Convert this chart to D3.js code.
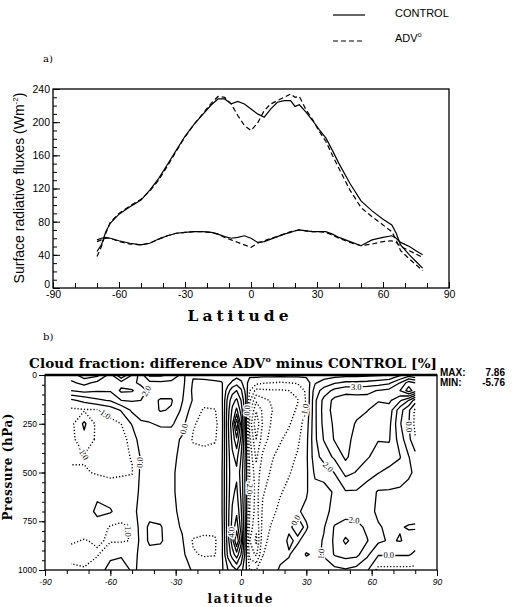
<!DOCTYPE html>
<html>
<head>
<meta charset="utf-8">
<script src="https://d3js.org/d3.v7.min.js"></script>
<style>
  html, body { margin: 0; padding: 0; background: #fff; }
  svg { display: block; }
</style>
</head>
<body>
<svg id="fig" width="514" height="607" xmlns="http://www.w3.org/2000/svg"></svg>
<script>
// ---------- (a) zonal-mean surface radiative fluxes (W m-2) ----------
const fluxLat = [-70,-68,-66,-64,-60,-55,-50,-46,-42,-38,-34,-30,-26,-22,-18,-15,-12,-9,-6,-3,
                 0,3,6,9,12,15,18,20,22,25,28,31,34,37,40,45,50,55,60,64,66,68,72,75,78];
const upperControl = [44,52,68,78,89,98,106,118,132,149,166,183,197,209,221,228,228,222,225,222,
                      216,210,206,216,224,226,226,219,221,212,202,191,181,166,150,126,105,93,83,76,66,52,40,32,24];
const upperAdv     = [38,50,66,79,90,99,107,117,130,147,165,182,197,210,223,231,230,222,208,196,
                      190,199,214,222,226,230,234,230,231,215,203,189,177,160,144,118,97,86,76,68,58,45,35,28,21];
const lowerControl = [58,60,61,60,57,54,52,54,59,63,66,67,68,68,67,65,62,60,61,63,
                      60,55,56,59,62,65,67,69,70,69,68,68,68,65,61,56,51,58,61,63,60,55,50,45,40];
const lowerAdv     = [56,58,60,60,56,53,52,54,59,63,66,67,68,68,67,65,61,58,55,52,
                      49,54,57,60,62,65,68,69,70,69,68,68,67,64,60,55,51,53,56,57,55,50,45,41,37];
const fluxLatTicks = [-90,-60,-30,0,30,60,90];
const fluxValueTicks = [0,40,80,120,160,200,240];

// ---------- (b) cloud fraction difference ADV0 - CONTROL (%) ----------
const gridLat = [-78,-72,-66,-60,-55,-50,-46,-42,-37,-32,-27,-22,-17,-12,
                 -9,-6,-4,-2,0,2,4,7,10,14,
                 18,22,26,30,34,38,43,48,53,58,63,68,73,77,80];
const gridPressure = [0,40,80,130,180,250,330,420,500,600,700,780,850,920,1000];

// one column per latitude, listed from the top (0 hPa) down to 1000 hPa
const diffSouth = [
  [3.5, 2.8, 2.0, -0.2, -1.2, -1.3, -1.3, -1.2, -0.8, -0.5, -0.4, -0.5, -0.9, -1.3, -0.8],   // -78
  [4.6, 3.3, 2.3, 0.3, -1.1, 0.2, -0.3, -1.1, -0.9, -0.6, -0.5, -0.6, -1.05, -1.4, -0.9],    // -72
  [4.3, 2.7, 2.1, 0.8, -1.1, -1.3, -1.2, -1.3, -1.1, -0.2, 0.2, -0.4, -0.9, -1.1, -0.4],     // -66
  [2.6, 2.4, 2.1, 1.1, -0.6, -1.3, -1.4, -1.3, -1.2, -0.5, 0.1, -1.1, -1.1, -0.2, 0.3],      // -60
  [5.0, 2.6, 3.2, 2.0, 0.1, -1.0, -1.3, -1.2, -1.1, -0.6, -0.5, -1.2, -1.1, -0.1, 0.4],      // -55
  [3.0, 2.2, 3.1, 2.1, 1.2, 0.1, -0.7, -0.95, -1.05, -0.5, -0.3, -0.9, -0.95, -0.3, -0.1],   // -50
  [1.5, 1.8, 2.4, 2.0, 1.3, 0.9, 0.6, 0.1, 0.2, 0.2, 0.3, 0.4, 0.3, 0.2, 0.1],               // -46
  [-0.2, 1.3, 1.8, 1.6, 1.4, 0.95, 0.7, 0.5, 0.4, 0.4, 0.6, 1.2, 1.2, 0.6, 0.3],             // -42
  [-0.2, 1.2, 1.5, 2.1, 2.1, 1.1, 0.6, 0.4, 0.3, 0.3, 0.5, 1.1, 1.15, 0.5, 0.3],             // -37
  [0.2, 1.3, 1.5, 2.1, 1.9, 1.2, 0.3, 0.2, 0.15, 0.15, 0.2, 0.35, 0.4, 0.5, 0.5],            // -32
  [1.3, 1.3, 1.2, 1.05, 0.8, 0.3, -0.1, -0.2, -0.3, -0.3, -0.2, -0.1, 0.1, 0.3, 0.4],        // -27
  [0.1, -0.1, -0.2, -0.1, -0.5, -0.9, -1.1, -0.6, -0.3, -0.3, -0.4, -0.5, -1.1, -0.9, -0.1], // -22
  [0.4, -0.3, -0.5, -0.7, -1.1, -1.3, -1.2, -0.7, -0.5, -0.4, -0.5, -0.7, -1.2, -1.1, -0.4], // -17
  [0.5, -0.2, -0.4, -0.6, -1.05, -1.2, -1.1, -0.6, -0.4, -0.4, -0.5, -0.8, -1.1, -1.05, -0.5] // -12
];
const diffTropics = [
  [0.6, -0.1, -0.3, -0.4, -0.5, -0.6, -0.5, -0.4, -0.3, -0.3, -0.3, -0.4, -0.5, -0.4, -0.3], // -9
  [0.3, 0.6, 1.6, 2.4, 2.6, 2.8, 2.7, 2.6, 2.6, 2.6, 2.7, 2.7, 2.6, 2.3, 1.0],               // -6
  [0.4, 1.2, 2.6, 3.6, 4.2, 4.8, 4.3, 3.8, 3.6, 3.8, 4.1, 4.4, 4.6, 3.5, 1.5],               // -4
  [0.6, 1.6, 3.0, 4.2, 5.2, 7.86, 5.8, 4.3, 3.8, 4.2, 4.8, 5.6, 7.0, 4.6, 2.0],              // -2
  [0.5, 1.2, 2.2, 3.0, 3.6, 4.6, 3.8, 3.0, 2.6, 2.8, 3.2, 3.6, 4.4, 3.0, 1.4],               // 0
  [0.3, 0.4, 0.8, 1.2, 1.4, 1.0, 1.0, 0.9, 0.8, 0.8, 0.9, 1.0, 0.8, 0.7, 0.3],               // 2
  [0.2, -0.4, -1.0, -1.8, -2.6, -3.4, -2.8, -2.3, -2.0, -1.9, -2.0, -2.4, -3.0, -2.4, -1.0], // 4
  [0.3, -0.7, -2.3, -3.8, -4.9, -5.76, -5.0, -4.2, -3.6, -3.4, -3.5, -3.8, -4.2, -3.2, -1.0],// 7
  [0.3, -0.9, -2.2, -3.3, -3.8, -3.9, -3.5, -2.8, -2.4, -2.1, -1.8, -1.6, -1.3, -1.05, -0.6],// 10
  [0.3, -1.0, -2.1, -2.9, -3.05, -2.9, -2.6, -2.1, -1.9, -1.6, -1.3, -0.9, -0.7, -0.5, -0.3] // 14
];
const diffNorth = [
  [0.3, -1.1, -2.1, -2.6, -2.6, -2.4, -2.1, -1.7, -1.4, -1.1, -0.7, -0.4, -0.3, -0.2, 0.1],  // 18
  [0.3, -1.0, -2.0, -2.3, -2.3, -2.1, -1.7, -1.3, -1.1, -0.7, -0.4, -0.1, 0.1, -0.05, 0.2],  // 22
  [0.3, -0.9, -1.8, -2.05, -1.9, -1.5, -1.2, -0.9, -0.6, -0.4, -0.1, 0.2, -0.1, 0.3, 0.1],   // 26
  [0.3, -0.6, -0.8, -0.9, -0.8, -0.5, -0.3, -0.2, -0.2, -0.1, 0.2, -0.1, 0.3, 1.1, 0.2],     // 30
  [0.4, 0.9, 1.5, 1.8, 1.8, 1.8, 1.8, 1.6, 1.2, 0.6, 0.4, 0.5, 0.6, 0.8, 0.2],               // 34
  [0.5, 1.4, 2.4, 3.3, 3.4, 3.3, 3.05, 2.4, 1.3, 0.7, 0.7, 0.9, 1.1, 1.1, 0.5],              // 38
  [0.6, 1.9, 3.3, 4.3, 4.4, 4.2, 4.1, 3.2, 2.05, 1.1, 1.3, 2.1, 2.2, 2.1, 0.7],              // 43
  [0.7, 2.2, 3.7, 4.5, 4.6, 4.5, 4.4, 4.2, 3.3, 1.9, 1.6, 2.4, 3.2, 2.4, 0.9],               // 48
  [0.7, 2.2, 3.7, 4.4, 4.3, 3.9, 3.6, 3.4, 2.95, 1.9, 1.6, 2.3, 2.5, 2.3, 0.6],              // 53
  [0.8, 2.3, 3.8, 4.3, 4.05, 3.5, 3.3, 3.1, 2.4, 1.5, 1.4, 1.8, 2.05, 1.2, 0.1],             // 58
  [0.9, 2.5, 4.05, 4.1, 3.5, 3.2, 3.05, 2.6, 2.05, 0.9, 0.8, 1.1, 1.2, 0.1, -1.3],           // 63
  [1.0, 2.8, 4.3, 4.2, 3.6, 3.3, 3.1, 2.5, 1.7, 0.9, 0.6, 0.8, 0.9, 0.1, -1.3],              // 68
  [1.8, 4.0, 5.0, 3.2, 1.4, 1.1, 1.5, 2.05, 1.6, 0.8, 0.7, 0.95, 1.05, 0.1, -1.3],           // 73
  [2.5, 5.5, 6.5, 2.0, 0.2, 0.05, 0.3, 1.05, 1.1, 0.8, 0.7, 1.05, 0.8, 0.1, -1.3],           // 77
  [2.0, 5.0, 5.5, 0.5, -1.2, -1.3, -0.9, 0.4, 0.9, 0.7, 0.6, 1.1, 0.5, -0.2, -1.3]           // 80
];
const contourLevels = [-5,-4,-3,-2,-1,0,1,2,3,4,5,6,7];
const latTicks = [-90,-60,-30,0,30,60,90];
const pressureTicks = [0,250,500,750,1000];

// ================= drawing =================
const svg = d3.select('#fig');
const SANS = 'Liberation Sans, Arial, sans-serif';
const SERIF = 'DejaVu Serif, serif';

// ---------- legend ----------
const legend = svg.append('g');
legend.append('line').attr('x1', 333).attr('x2', 365).attr('y1', 15).attr('y2', 15)
  .attr('stroke', '#000').attr('stroke-width', 1.2);
legend.append('line').attr('x1', 333).attr('x2', 365).attr('y1', 41).attr('y2', 41)
  .attr('stroke', '#000').attr('stroke-width', 1.2).attr('stroke-dasharray', '5,3');
legend.append('text').attr('x', 395).attr('y', 17).attr('font-family', SANS).attr('font-size', 11)
  .text('CONTROL');
const advLeg = legend.append('text').attr('x', 395).attr('y', 42).attr('font-family', SANS).attr('font-size', 11);
advLeg.append('tspan').text('ADV');
advLeg.append('tspan').attr('dy', -5).attr('font-size', 7).text('o');

// ---------- panel (a) ----------
const A = {left: 53, right: 449, top: 89, bottom: 288};
const xA = d3.scaleLinear().domain([-90, 90]).range([A.left, A.right]);
const yA = d3.scaleLinear().domain([0, 240]).range([A.bottom, A.top]);

svg.append('text').attr('x', 43).attr('y', 62).attr('font-family', SERIF).attr('font-size', 10)
  .text('a)');

const gA = svg.append('g');
// minor ticks every 10 units, pointing inward
gA.append('g').attr('transform', `translate(0,${A.bottom})`)
  .call(d3.axisBottom(xA).tickValues(d3.range(-90, 91, 10)).tickSize(-5).tickSizeOuter(0).tickFormat(''));
gA.append('g').attr('transform', `translate(0,${A.bottom})`)
  .call(d3.axisBottom(xA).tickValues(fluxLatTicks).tickSize(-6).tickSizeOuter(0).tickPadding(3)
    .tickFormat(d => String(d)));
gA.append('g').attr('transform', `translate(${A.left},0)`)
  .call(d3.axisLeft(yA).tickValues(d3.range(0, 241, 10)).tickSize(-4).tickSizeOuter(0).tickFormat(''));
const yAxisA = gA.append('g').attr('transform', `translate(${A.left},0)`)
  .call(d3.axisLeft(yA).tickValues(fluxValueTicks).tickSize(-7).tickSizeOuter(0).tickPadding(3)
    .tickFormat(d => String(d)));
gA.selectAll('.domain').remove();
gA.selectAll('.tick line').attr('stroke', '#000').attr('stroke-width', 1);
gA.selectAll('text').attr('font-family', SANS).attr('font-size', 10.5).attr('fill', '#000');
// lift the zero label clear of the latitude labels below the corner
yAxisA.selectAll('.tick text').filter(d => d === 0).attr('dy', '-0.05em');

gA.append('rect').attr('x', A.left).attr('y', A.top).attr('width', A.right - A.left)
  .attr('height', A.bottom - A.top).attr('fill', 'none').attr('stroke', '#000').attr('stroke-width', 1.3);

const fluxLine = vals => d3.line().x((d, i) => xA(fluxLat[i])).y(d => yA(d))(vals);
[[upperControl, null], [lowerControl, null], [upperAdv, '5,3'], [lowerAdv, '5,3']].forEach(([vals, dash]) => {
  gA.append('path').attr('d', fluxLine(vals)).attr('fill', 'none').attr('stroke', '#000')
    .attr('stroke-width', 1.2).attr('stroke-dasharray', dash);
});

const yTitle = svg.append('text').attr('transform', 'translate(24,188) rotate(-90)')
  .attr('text-anchor', 'middle').attr('font-family', SANS).attr('font-size', 14);
yTitle.append('tspan').text('Surface radiative fluxes (Wm');
yTitle.append('tspan').attr('dy', -6).attr('font-size', 8).text('-2');
yTitle.append('tspan').attr('dy', 6).text(')');

svg.append('text').attr('x', 238).attr('y', 321).attr('text-anchor', 'middle')
  .attr('font-family', SERIF).attr('font-weight', 'bold').attr('font-size', 15.5)
  .attr('textLength', 101).attr('lengthAdjust', 'spacing')
  .text('Latitude');

// ---------- panel (b) ----------
const B = {left: 45, right: 437, top: 375, bottom: 570};
const xB = d3.scaleLinear().domain([-90, 90]).range([B.left, B.right]);
const yB = d3.scaleLinear().domain([0, 1000]).range([B.top, B.bottom]);

svg.append('text').attr('x', 43).attr('y', 340).attr('font-family', SERIF).attr('font-size', 10).text('b)');

const title = svg.append('text').attr('x', 29).attr('y', 368).attr('font-family', SERIF)
  .attr('font-weight', 'bold').attr('font-size', 13.5).attr('textLength', 408).attr('lengthAdjust', 'spacing');
title.append('tspan').text('Cloud fraction: difference ADV');
title.append('tspan').attr('dy', -6).attr('font-size', 8).text('o');
title.append('tspan').attr('dy', 6).text(' minus CONTROL [%]');

// grid -> flat row-major array for the contour generator
const columns = diffSouth.concat(diffTropics, diffNorth);
const nx = gridLat.length, ny = gridPressure.length;
const values = new Array(nx * ny);
for (let i = 0; i < nx; i++) for (let j = 0; j < ny; j++) values[j * nx + i] = columns[i][j];

const fieldMax = d3.max(values), fieldMin = d3.min(values);
const stats = svg.append('g').attr('font-family', SANS).attr('font-size', 10).attr('font-weight', 'bold');
stats.append('text').attr('x', 440).attr('y', 376).text('MAX:');
stats.append('text').attr('x', 505).attr('y', 376).attr('text-anchor', 'end').text(fieldMax.toFixed(2));
stats.append('text').attr('x', 440).attr('y', 386).text('MIN:');
stats.append('text').attr('x', 505).attr('y', 386).attr('text-anchor', 'end').text(fieldMin.toFixed(2));

// grid index space -> latitude / pressure -> pixels
function interpAxis(arr, f) {
  const fi = Math.max(0, Math.min(arr.length - 1, f));
  const i0 = Math.min(arr.length - 2, Math.floor(fi));
  const t = fi - i0;
  return arr[i0] + (arr[i0 + 1] - arr[i0]) * t;
}
const toPx = ([gx, gy]) => [xB(interpAxis(gridLat, gx - 0.5)), yB(interpAxis(gridPressure, gy - 0.5))];
const inside = ([gx, gy]) => gx > 0 && gx < nx && gy > 0 && gy < ny;

// turn closed contour rings into open isolines (drop the pieces running along the grid border)
function ringToLines(ring) {
  const nSeg = ring.length - 1;
  const ok = [];
  for (let k = 0; k < nSeg; k++) ok.push(inside(ring[k]) && inside(ring[k + 1]));
  if (ok.every(Boolean)) return [{pts: ring, closed: true}];
  const start = ok.indexOf(false);
  const lines = [];
  let cur = null;
  for (let m = 1; m <= nSeg; m++) {
    const k = (start + m) % nSeg;
    if (ok[k]) { if (!cur) cur = [ring[k]]; cur.push(ring[k + 1]); }
    else if (cur) { lines.push({pts: cur, closed: false}); cur = null; }
  }
  if (cur) lines.push({pts: cur, closed: false});
  return lines;
}

const contours = d3.contours().size([nx, ny]).thresholds(contourLevels)(values);

const gB = svg.append('g');
gB.append('clipPath').attr('id', 'plotB').append('rect')
  .attr('x', B.left).attr('y', B.top).attr('width', B.right - B.left).attr('height', B.bottom - B.top);
const lineG = gB.append('g').attr('clip-path', 'url(#plotB)');
const pathGen = d3.line();
const candidates = [];

contours.forEach(c => {
  const level = c.value;
  c.coordinates.forEach(poly => poly.forEach(ring => {
    ringToLines(ring).forEach(({pts, closed}) => {
      const px = pts.map(toPx);
      let d = pathGen(px);
      if (closed) d += 'Z';
      lineG.append('path').attr('d', d).attr('fill', 'none').attr('stroke', '#000')
        .attr('stroke-width', level < 0 ? 1.4 : 1.3)
        .attr('stroke-dasharray', level < 0 ? '1.2,2' : null)
        .attr('stroke-linejoin', 'round');
      let len = 0;
      const cum = [0];
      for (let k = 1; k < px.length; k++) {
        len += Math.hypot(px[k][0] - px[k - 1][0], px[k][1] - px[k - 1][1]);
        cum.push(len);
      }
      candidates.push({px, cum, len, level});
    });
  }));
});

// contour labels, placed along the longer isolines and kept apart from one another
function pointAt(c, s) {
  let k = 1;
  while (k < c.cum.length - 1 && c.cum[k] < s) k++;
  const a = c.px[k - 1], b = c.px[k];
  const seg = c.cum[k] - c.cum[k - 1] || 1;
  const t = (s - c.cum[k - 1]) / seg;
  let ang = Math.atan2(b[1] - a[1], b[0] - a[0]) * 180 / Math.PI;
  if (ang > 90) ang -= 180;
  if (ang < -90) ang += 180;
  return {x: a[0] + (b[0] - a[0]) * t, y: a[1] + (b[1] - a[1]) * t, ang};
}
const placed = [];
const haloG = gB.append('g');
const labelG = gB.append('g');
candidates.sort((a, b) => b.len - a.len).forEach(c => {
  if (c.len < 45) return;
  for (const f of [0.5, 0.35, 0.65, 0.2, 0.8]) {
    const p = pointAt(c, c.len * f);
    if (p.x < B.left + 8 || p.x > B.right - 8 || p.y < B.top + 8 || p.y > B.bottom - 6) continue;
    if (placed.some(q => Math.hypot(q.x - p.x, q.y - p.y) < 42)) continue;
    placed.push(p);
    const txt = c.level.toFixed(1);
    const tf = `translate(${p.x},${p.y}) rotate(${p.ang})`;
    haloG.append('text').attr('transform', tf).attr('text-anchor', 'middle').attr('dy', '0.35em')
      .attr('font-family', 'Liberation Serif, serif').attr('font-size', 8.5)
      .attr('fill', '#fff').attr('stroke', '#fff').attr('stroke-width', 3).text(txt);
    labelG.append('text').attr('transform', tf).attr('text-anchor', 'middle').attr('dy', '0.35em')
      .attr('font-family', 'Liberation Serif, serif').attr('font-size', 8.5)
      .attr('fill', '#000').text(txt);
    break;
  }
});

// axes of panel (b)
const axB = svg.append('g');
axB.append('g').attr('transform', `translate(0,${B.bottom})`)
  .call(d3.axisBottom(xB).tickValues(d3.range(-90, 91, 10)).tickSize(4).tickSizeOuter(0).tickFormat(''));
axB.append('g').attr('class', 'latlab').attr('transform', `translate(0,${B.bottom})`)
  .call(d3.axisBottom(xB).tickValues(latTicks).tickSize(6).tickSizeOuter(0).tickPadding(3)
    .tickFormat(d => String(d)));
axB.append('g').attr('transform', `translate(${B.left},0)`)
  .call(d3.axisLeft(yB).tickValues(d3.range(0, 1001, 50)).tickSize(3).tickSizeOuter(0).tickFormat(''));
axB.append('g').attr('transform', `translate(${B.left},0)`)
  .call(d3.axisLeft(yB).tickValues(pressureTicks).tickSize(6).tickSizeOuter(0).tickPadding(2)
    .tickFormat(d => String(d)));
axB.selectAll('.domain').remove();
axB.selectAll('.tick line').attr('stroke', '#000').attr('stroke-width', 1);
axB.selectAll('text').attr('font-family', SANS).attr('font-size', 8.5).attr('fill', '#000');
axB.selectAll('.latlab text').attr('font-style', 'italic');

// frame: heavy top edge
axB.append('rect').attr('x', B.left).attr('y', B.top).attr('width', B.right - B.left)
  .attr('height', B.bottom - B.top).attr('fill', 'none').attr('stroke', '#000').attr('stroke-width', 1.3);
axB.append('line').attr('x1', B.left).attr('x2', B.right).attr('y1', B.top).attr('y2', B.top)
  .attr('stroke', '#000').attr('stroke-width', 2.6);

svg.append('text').attr('transform', 'translate(12,467) rotate(-90)').attr('text-anchor', 'middle')
  .attr('font-family', SERIF).attr('font-weight', 'bold').attr('font-size', 12)
  .attr('textLength', 107).attr('lengthAdjust', 'spacing').text('Pressure (hPa)');
svg.append('text').attr('x', 240).attr('y', 603).attr('text-anchor', 'middle')
  .attr('font-family', SERIF).attr('font-weight', 'bold').attr('font-size', 12)
  .attr('textLength', 65).attr('lengthAdjust', 'spacing')
  .text('latitude');
</script>
</body>
</html>
